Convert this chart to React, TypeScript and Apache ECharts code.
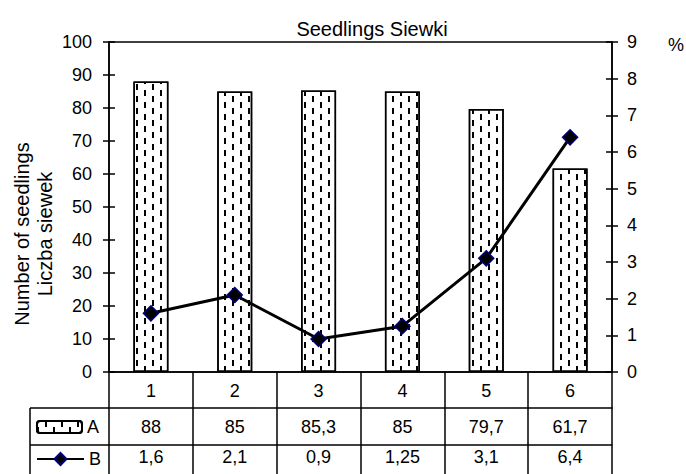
import React, { useEffect, useRef } from "react";
import * as echarts from "echarts";

const categories = ["1", "2", "3", "4", "5", "6"];
const seriesA = [88, 85, 85.3, 85, 79.7, 61.7];
const seriesB = [1.6, 2.1, 0.9, 1.25, 3.1, 6.4];
const leftMax = 100;
const leftInterval = 10;
const rightMax = 9;
const rightInterval = 1;

const FONT = "Liberation Sans, Arial, sans-serif";
const fmt = (v: number) => String(v).replace(".", ",");

export default function App() {
  const ref = useRef<HTMLDivElement>(null);
  useEffect(() => {
    if (!ref.current) return;
    document.body.style.margin = "0";
    const chart = echarts.init(ref.current, undefined, { renderer: "svg" });
    const lbl = { color: "#000", fontSize: 18, fontFamily: FONT };
    const yBase = (pos: "left" | "right", max: number, interval: number, inside: boolean) => ({
      type: "value",
      position: pos,
      min: 0,
      max,
      interval,
      axisLine: { show: !inside, lineStyle: { color: "#000", width: 1.5 } },
      axisTick: { show: true, inside, length: 6, lineStyle: { color: "#000", width: 1.5 } },
      axisLabel: inside ? { show: false } : { ...lbl, margin: pos === "left" ? 17 : 15 },
      splitLine: { show: false },
    });
    const xBase = (offset: number, tickLen: number, values: string[], margin: number) => ({
      type: "category",
      position: "bottom",
      data: categories,
      offset,
      boundaryGap: true,
      axisLine: { show: true, onZero: false, lineStyle: { color: "#000", width: 1.5 } },
      axisTick: { show: true, length: tickLen, interval: 0, lineStyle: { color: "#000", width: 1.5 } },
      axisLabel: { ...lbl, interval: 0, margin, formatter: (_v: string, i: number) => values[i] },
      splitLine: { show: false },
    });
    chart.setOption({
      animation: false,
      backgroundColor: "#fff",
      title: {
        text: "Seedlings Siewki",
        left: 367,
        textAlign: "center",
        top: 14,
        textStyle: { color: "#000", fontSize: 20, fontWeight: "normal", fontFamily: FONT },
      },
      grid: { left: 109, right: 74, top: 42, bottom: 102, show: true, borderColor: "#000", borderWidth: 1.5 },
      legend: [
        {
          data: ["A"],
          left: 36,
          top: 418,
          padding: 0,
          itemWidth: 45,
          itemHeight: 12,
          itemGap: 6,
          textStyle: lbl,
        },
        {
          data: ["B"],
          left: 36,
          top: 450,
          padding: 0,
          itemWidth: 47,
          itemHeight: 15,
          textStyle: lbl,
        },
      ],
      xAxis: [
        xBase(0, 36, categories, 10),
        xBase(36, 37, seriesA.map(fmt), 10),
        xBase(73, 40, seriesB.map(fmt), 3),
      ],
      yAxis: [
        yBase("left", leftMax, leftInterval, false),
        yBase("right", rightMax, rightInterval, false),
        yBase("left", leftMax, leftInterval, true),
        yBase("right", rightMax, rightInterval, true),
      ],
      graphic: [
        { type: "line", shape: { x1: 30, y1: 408, x2: 109, y2: 408 }, style: { stroke: "#000", lineWidth: 1.5 } },
        { type: "line", shape: { x1: 30, y1: 445, x2: 109, y2: 445 }, style: { stroke: "#000", lineWidth: 1.5 } },
        { type: "line", shape: { x1: 30, y1: 408, x2: 30, y2: 480 }, style: { stroke: "#000", lineWidth: 1.5 } },
        {
          type: "text",
          x: 33,
          y: 234,
          rotation: Math.PI / 2,
          style: {
            text: "Number of seedlings\nLiczba siewek",
            align: "center",
            verticalAlign: "middle",
            fill: "#000",
            font: `20px ${FONT}`,
            lineHeight: 23,
          },
        },
        {
          type: "text",
          x: 668,
          y: 36,
          style: { text: "%", fill: "#000", font: `18px ${FONT}` },
        },
      ],
      series: [
        {
          name: "A",
          type: "bar",
          data: seriesA,
          xAxisIndex: 0,
          yAxisIndex: 0,
          barWidth: 35,
          itemStyle: {
            color: "#fff",
            borderColor: "#000",
            borderWidth: 1.5,
            decal: {
              symbol: "rect",
              symbolSize: 1,
              color: "#000",
              dashArrayX: [[2, 14], [0, 8, 2, 6]],
              dashArrayY: [6, 0],
              rotation: 0,
            },
          },
        },
        {
          name: "B",
          type: "line",
          data: seriesB,
          xAxisIndex: 0,
          yAxisIndex: 1,
          symbol: "diamond",
          symbolSize: 15,
          color: "#000",
          lineStyle: { color: "#000", width: 3 },
          itemStyle: { color: "#000", borderColor: "#000080", borderWidth: 1.5 },
          z: 5,
        },
      ],
    });
    return () => chart.dispose();
  }, []);
  return <div ref={ref} style={{ width: 686, height: 474 }} />;
}
